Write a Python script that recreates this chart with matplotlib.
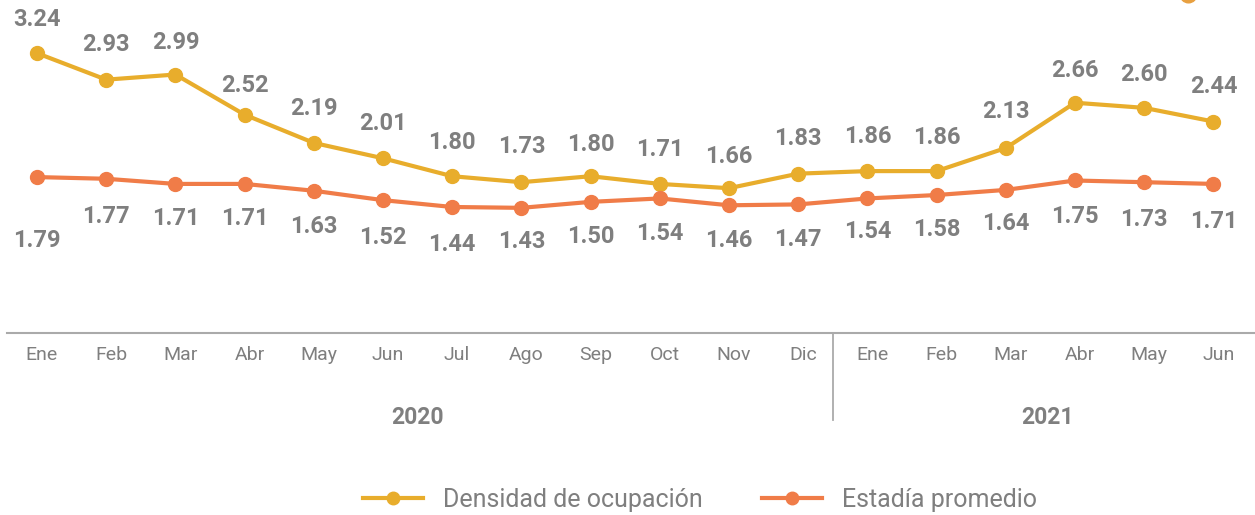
import matplotlib
matplotlib.use("Agg")
import matplotlib.pyplot as plt
from matplotlib.lines import Line2D

months = ["Ene", "Feb", "Mar", "Abr", "May", "Jun", "Jul", "Ago", "Sep", "Oct",
          "Nov", "Dic", "Ene", "Feb", "Mar", "Abr", "May", "Jun"]
years = ["2020", "2021"]
densidad = [3.24, 2.93, 2.99, 2.52, 2.19, 2.01, 1.80, 1.73, 1.80, 1.71,
            1.66, 1.83, 1.86, 1.86, 2.13, 2.66, 2.60, 2.44]
estadia = [1.79, 1.77, 1.71, 1.71, 1.63, 1.52, 1.44, 1.43, 1.50, 1.54,
           1.46, 1.47, 1.54, 1.58, 1.64, 1.75, 1.73, 1.71]
series_names = ["Densidad de ocupación", "Estadía promedio"]

YELLOW = "#E8AD2C"
ORANGE = "#F07C48"
GRAY = "#7F7F7F"
plt.rcParams["font.family"] = ["Roboto", "DejaVu Sans"]

W, H = 1255, 515
fig = plt.figure(figsize=(W / 100, H / 100), dpi=100)
ax_left, ax_right, ax_bottom = 7, 1255, 333
ax = fig.add_axes([ax_left / W, (H - ax_bottom) / H, (ax_right - ax_left) / W, ax_bottom / H])

px_per_cat = 69.2
x0 = 37
ppu = 87.0
x = list(range(len(months)))
ax.set_xlim((ax_left - x0) / px_per_cat, (ax_right - x0) / px_per_cat)
ax.set_ylim(-3 / ppu, 336 / ppu)

ax.plot(x, densidad, color=YELLOW, lw=3, marker="o", ms=10, zorder=3, solid_capstyle="round")
ax.plot(x, estadia, color=ORANGE, lw=3, marker="o", ms=10, zorder=3, solid_capstyle="round")

# label offsets in points (styling)
d_off = [24, 25, 23, 21, 25, 25, 24, 26, 23, 25, 23, 25, 25, 24, 26, 23, 24, 25]
e_off = [-46, -27, -25, -25, -26, -27, -27, -24, -25, -25, -25, -25, -24, -25, -24, -26, -27, -27]
for i, v in enumerate(densidad):
    ax.annotate(f"{v:.2f}", (i, v), xytext=(0, d_off[i]), textcoords="offset points",
                ha="center", va="center", fontsize=17, fontweight="bold", color=GRAY)
for i, v in enumerate(estadia):
    ax.annotate(f"{v:.2f}", (i, v), xytext=(0, e_off[i]), textcoords="offset points",
                ha="center", va="center", fontsize=17, fontweight="bold", color=GRAY)

for s in ["top", "right", "left"]:
    ax.spines[s].set_visible(False)
ax.spines["bottom"].set_color("#AAAAAA")
ax.spines["bottom"].set_linewidth(1.5)
ax.spines["bottom"].set_position(("data", -3 / ppu))
ax.set_yticks([])
ax.set_xticks([i + 0.07 for i in x])
ax.set_xticklabels(months, fontsize=14, color=GRAY)
ax.tick_params(axis="x", length=0, pad=9)

# divider between years
ax.plot([11.5, 11.5], [-3 / ppu, -92 / ppu], color="#AAAAAA", lw=1.3, clip_on=False)
ax.text(5.5, -89 / ppu, years[0], ha="center", va="center", fontsize=16.5,
        fontweight="bold", color=GRAY)
ax.text(14.6, -89 / ppu, years[1], ha="center", va="center", fontsize=16.5,
        fontweight="bold", color=GRAY)

handles = [Line2D([], [], color=YELLOW, lw=3, marker="o", ms=9),
           Line2D([], [], color=ORANGE, lw=3, marker="o", ms=9)]
leg = fig.legend(handles, series_names, loc="center", bbox_to_anchor=(700 / W, 1 - 500 / H),
                 ncol=2, frameon=False, fontsize=18, handlelength=2.4, handletextpad=0.8,
                 columnspacing=2.4)
for t in leg.get_texts():
    t.set_color(GRAY)

# partial mark at top edge
fig.add_artist(Line2D([1188 / W], [1.0 + 6.5 / H], color="#E8A040", marker="o", ms=12, lw=0,
                      transform=fig.transFigure))

fig.savefig("out.png", dpi=100)
